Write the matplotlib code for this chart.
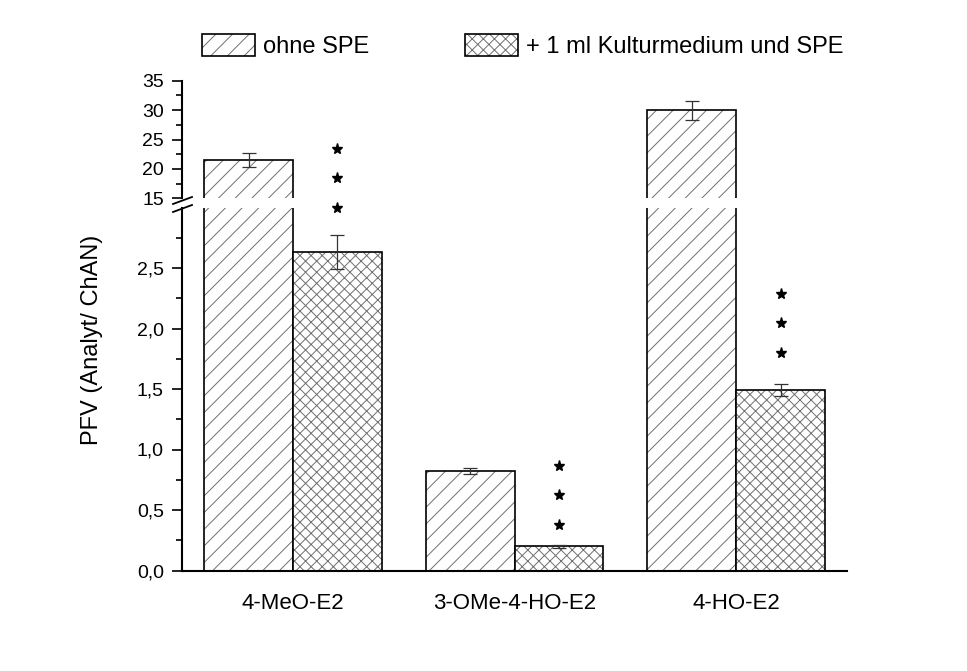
import matplotlib
matplotlib.use('Agg')
import matplotlib.pyplot as plt
import matplotlib.transforms as mtransforms
from matplotlib.lines import Line2D
from matplotlib.ticker import FixedLocator, FuncFormatter
import numpy as np

plt.rcParams['font.family'] = ['Liberation Sans', 'DejaVu Sans']
plt.rcParams['hatch.linewidth'] = 0.7

# data
categories = ['4-MeO-E2', '3-OMe-4-HO-E2', '4-HO-E2']
ohne = [21.5, 0.82, 30.0]
ohne_err = [1.2, 0.025, 1.6]
spe = [2.63, 0.20, 1.49]
spe_err = [0.14, 0.012, 0.05]
star_base = [3.0, 0.38, 1.80]   # lowest star of each "***", lower-axis units
labels = ['ohne SPE', '+ 1 ml Kulturmedium und SPE']

W, H = 967, 671
fig = plt.figure(figsize=(W / 100, H / 100), dpi=100)
left, right = 182, 847
ax_lo = fig.add_axes([left / W, 1 - 570.5 / H, (right - left) / W, (570.5 - 207.5) / H])
ax_hi = fig.add_axes([left / W, 1 - 198.3 / H, (right - left) / W, (198.3 - 80.7) / H])
ax_hi.patch.set_facecolor('none')

x = np.arange(1, len(categories) + 1)
w = 0.4
handles = []
for ax in (ax_lo, ax_hi):
    h1 = ax.bar(x - w / 2, ohne, w, color='white', edgecolor='#707070', hatch='//', linewidth=0)
    o1 = ax.bar(x - w / 2, ohne, w, fill=False, edgecolor='black', linewidth=1.2)
    h2 = ax.bar(x + w / 2, spe, w, color='white', edgecolor='#707070', hatch='xxx', linewidth=0)
    o2 = ax.bar(x + w / 2, spe, w, fill=False, edgecolor='black', linewidth=1.2)
    ax.errorbar(x - w / 2, ohne, yerr=ohne_err, fmt='none', ecolor='#333333',
                elinewidth=0.9, capsize=5, capthick=0.9)
    ax.errorbar(x + w / 2, spe, yerr=spe_err, fmt='none', ecolor='#333333',
                elinewidth=0.9, capsize=5, capthick=0.9)
    ax.set_xlim(0.5, 3.5)
    ax.spines['top'].set_visible(False)
    ax.spines['right'].set_visible(False)
    ax.spines['left'].set_linewidth(1.5)
    ax.spines['bottom'].set_linewidth(1.5)
    ax.tick_params(axis='y', which='major', direction='out', length=7, width=1.2,
                   labelsize=14, pad=6)
    ax.tick_params(axis='y', which='minor', direction='out', length=4, width=1.2)
    handles = [(h1[0], o1[0]), (h2[0], o2[0])]

# lower part
ax_lo.set_ylim(0, 3.0)
ax_lo.yaxis.set_major_locator(FixedLocator([0, 0.5, 1.0, 1.5, 2.0, 2.5]))
ax_lo.yaxis.set_minor_locator(FixedLocator([0.25, 0.75, 1.25, 1.75, 2.25, 2.75]))
ax_lo.yaxis.set_major_formatter(FuncFormatter(lambda v, p: f'{v:.1f}'.replace('.', ',')))
ax_lo.set_xticks(x)
ax_lo.set_xticklabels(categories, fontsize=16)
ax_lo.tick_params(axis='x', length=0, pad=16)

# upper part
ax_hi.set_ylim(15, 35)
ax_hi.yaxis.set_major_locator(FixedLocator([15, 20, 25, 30, 35]))
ax_hi.yaxis.set_minor_locator(FixedLocator([17.5, 22.5, 27.5, 32.5]))
ax_hi.yaxis.set_major_formatter(FuncFormatter(lambda v, p: f'{v:.0f}'))
ax_hi.spines['bottom'].set_visible(False)
ax_hi.set_xticks([])

# axis break marks
for y0, y1 in [(204, 197), (212, 205)]:
    fig.add_artist(Line2D([173 / W, 192 / W], [1 - y0 / H, 1 - y1 / H],
                          transform=fig.transFigure, color='black', lw=1.3))

# significance stars
for xi, yb in zip(x + w / 2, star_base):
    for k in range(3):
        tr = mtransforms.offset_copy(ax_lo.transData, fig=fig, x=0, y=k * 29.5, units='dots')
        ax_lo.plot(xi, yb, marker='*', color='black', ms=8, transform=tr, clip_on=False,
                   zorder=5)

fig.text(92 / W, 1 - 340 / H, 'PFV (Analyt/ ChAN)', rotation=90, va='center', ha='center',
         fontsize=17)

fig.legend(handles=handles, labels=labels, loc='center left',
           bbox_to_anchor=(202 / W, 1 - 46 / H), ncol=2, frameon=False, borderpad=0,
           borderaxespad=0, fontsize=17, handlelength=2.25, handleheight=1.1,
           handletextpad=0.34, columnspacing=4.06)

fig.savefig('out.png', dpi=100, facecolor='white')
